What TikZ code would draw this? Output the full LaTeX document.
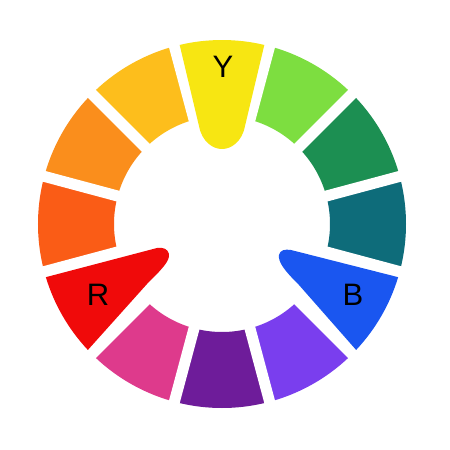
\documentclass[tikz,border=0pt]{standalone}
\usepackage{fontspec}
\setmainfont{Liberation Sans}
\definecolor{cY}{RGB}{247,230,18}
\definecolor{cYG}{RGB}{125,222,64}
\definecolor{cG}{RGB}{28,143,82}
\definecolor{cT}{RGB}{14,108,122}
\definecolor{cB}{RGB}{26,86,240}
\definecolor{cBV}{RGB}{122,62,238}
\definecolor{cV}{RGB}{110,28,154}
\definecolor{cM}{RGB}{222,58,140}
\definecolor{cR}{RGB}{240,10,10}
\definecolor{cOR}{RGB}{250,92,22}
\definecolor{cO}{RGB}{250,142,28}
\definecolor{cYO}{RGB}{253,190,28}
\tikzset{
  gapline/.style={white, line width=11pt},
  lettr/.style={inner sep=0pt, font=\fontsize{31}{31}\selectfont, text=black}
}
\begin{document}
\begin{tikzpicture}[x=1pt,y=1pt]
\useasboundingbox (-222,-226) rectangle (228,224);
\fill[white] (-222,-226) rectangle (228,224);
% regular segments
\foreach \a/\c in {60/cYG, 30/cG, 0/cT, 300/cBV, 270/cV, 240/cM, 180/cOR, 150/cO, 120/cYO}{
  \begin{scope}[rotate=\a]
    \fill[\c] (-15:108pt) arc[start angle=-15, end angle=15, radius=108pt]
      -- (15:184pt) arc[start angle=15, end angle=-15, radius=184pt] -- cycle;
  \end{scope}
}
% white gaps
\foreach \b in {15,45,...,345}{
  \draw[gapline] (\b:50pt) -- (\b:200pt);
}
% primaries
\fill[cY] (103.3:184pt) arc[start angle=103.3, end angle=76.7, radius=184pt]
  -- (23,98) .. controls (20,82) and (9,75) .. (0,75)
  .. controls (-9,75) and (-20,82) .. (-23,98) -- cycle;
\fill[cR] (196.8:184pt) arc[start angle=196.8, end angle=223.2, radius=184pt]
  -- (-75,-60) .. controls (-60,-45) and (-52,-37) .. (-53,-30)
  .. controls (-54,-25) and (-59,-23) .. (-65,-24) -- cycle;
\begin{scope}[xscale=-1]
\fill[cB] (196.8:184pt) arc[start angle=196.8, end angle=223.2, radius=184pt]
  -- (-77,-61) .. controls (-62,-46) and (-56,-38) .. (-57,-31)
  .. controls (-58,-26) and (-63,-25) .. (-69,-26) -- cycle;
\end{scope}
\node[lettr] (Y) at (1,157.5) {Y};
\node[lettr] (R) at (-124,-70.5) {R};
\node[lettr] (B) at (131,-70.5) {B};
\end{tikzpicture}
\end{document}
